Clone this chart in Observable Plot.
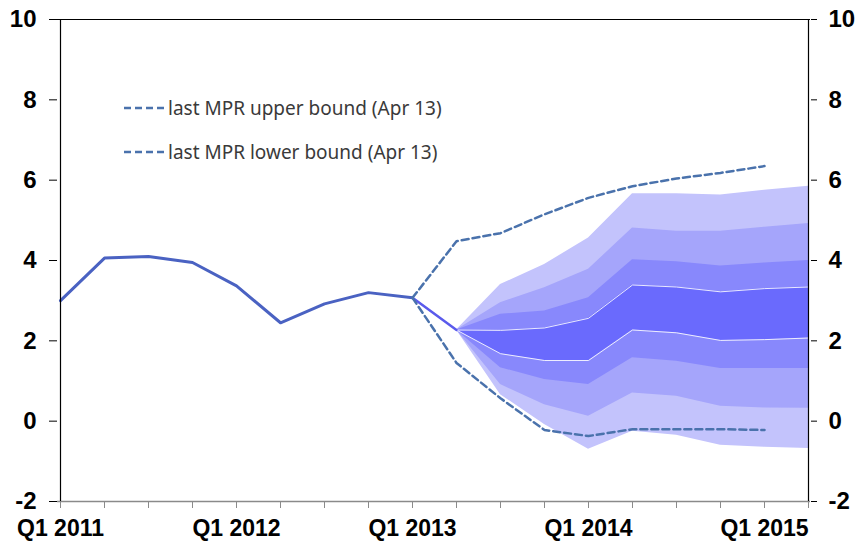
<!DOCTYPE html>
<html>
<head>
<meta charset="utf-8">
<script src="https://cdn.jsdelivr.net/npm/d3@7"></script>
<script src="https://cdn.jsdelivr.net/npm/@observablehq/plot@0.6"></script>
<style>
  html, body { margin: 0; padding: 0; background: #fff; }
  #wrap { position: relative; width: 859px; height: 542px; }
  #legend { position: absolute; left: 123px; top: 96px; font-family: "Noto Sans", "Open Sans", sans-serif; font-size: 19px; color: #3a3a3a; }
  #legend .row { display: flex; align-items: center; height: 24px; margin-bottom: 20px; }
  #legend svg { display: block; margin-right: 3px; }
</style>
</head>
<body>
<div id="wrap">
  <div id="chart"></div>
  <div id="legend"></div>
</div>
<script>
// ---- data ----
const quarters = ["Q1 2011","Q2 2011","Q3 2011","Q4 2011","Q1 2012","Q2 2012","Q3 2012","Q4 2012",
                  "Q1 2013","Q2 2013","Q3 2013","Q4 2013","Q1 2014","Q2 2014","Q3 2014","Q4 2014",
                  "Q1 2015","Q2 2015"];
const xTickLabels = ["Q1 2011","Q1 2012","Q1 2013","Q1 2014","Q1 2015"];
const yTicks = [-2, 0, 2, 4, 6, 8, 10];

// actual inflation, Q1 2011 .. Q2 2013
const actual = [3.0, 4.06, 4.1, 3.95, 3.37, 2.45, 2.92, 3.2, 3.07, 2.27];

// last MPR bounds (Apr 13), Q1 2013 .. Q1 2015
const boundQuarters = quarters.slice(8, 17);
const upperBound = [3.07, 4.48, 4.68, 5.15, 5.56, 5.85, 6.04, 6.18, 6.35];
const lowerBound = [3.07, 1.45, 0.57, -0.22, -0.37, -0.2, -0.2, -0.2, -0.22];

// fan chart bands, Q2 2013 .. Q2 2015
const fanQuarters = quarters.slice(9, 18);
const U3 = [2.27, 3.40, 3.90, 4.56, 5.66, 5.66, 5.63, 5.75, 5.85];
const U2 = [2.27, 2.95, 3.32, 3.78, 4.81, 4.73, 4.73, 4.83, 4.92];
const U1 = [2.27, 2.66, 2.74, 3.07, 4.02, 3.97, 3.86, 3.94, 4.00];
const U0 = [2.27, 2.26, 2.32, 2.56, 3.39, 3.34, 3.22, 3.30, 3.34];
const L0 = [2.27, 1.68, 1.51, 1.51, 2.27, 2.20, 2.01, 2.03, 2.07];
const L1 = [2.27, 1.33, 1.04, 0.91, 1.58, 1.49, 1.31, 1.31, 1.31];
const L2 = [2.27, 0.91, 0.41, 0.12, 0.70, 0.62, 0.37, 0.33, 0.32];
const L3 = [2.27, 0.66, -0.08, -0.70, -0.25, -0.35, -0.60, -0.65, -0.68];

const legendItems = ["last MPR upper bound (Apr 13)", "last MPR lower bound (Apr 13)"];

// ---- build tables ----
const actualRows = actual.map((v, i) => ({q: quarters[i], v}));
const upperRows = upperBound.map((v, i) => ({q: boundQuarters[i], v}));
const lowerRows = lowerBound.map((v, i) => ({q: boundQuarters[i], v}));
const fan = fanQuarters.map((q, i) => ({q, u3: U3[i], u2: U2[i], u1: U1[i], u0: U0[i], l0: L0[i], l1: L1[i], l2: L2[i], l3: L3[i]}));

const bandColors = ["#c3c3fc", "#a5a5fb", "#8888fc", "#6a6afd"];
const dashColor = "#4a72ac";
const yFmt = d => String(d);

const chart = Plot.plot({
  width: 859,
  height: 542,
  marginLeft: 57,
  marginRight: 49,
  marginTop: 19,
  marginBottom: 41,
  style: {fontFamily: "'Liberation Sans', Arial, sans-serif", fontSize: "23px", fontWeight: "bold", color: "#000", background: "#fff"},
  x: {type: "point", domain: quarters, padding: 0, axis: null, label: null},
  y: {domain: [-2, 10], axis: null, label: null},
  marks: [
    Plot.areaY(fan, {x: "q", y1: "l3", y2: "u3", fill: bandColors[0], curve: "linear"}),
    Plot.areaY(fan, {x: "q", y1: "l2", y2: "u2", fill: bandColors[1], curve: "linear"}),
    Plot.areaY(fan, {x: "q", y1: "l1", y2: "u1", fill: bandColors[2], curve: "linear"}),
    Plot.areaY(fan, {x: "q", y1: "l0", y2: "u0", fill: bandColors[3], curve: "linear"}),
    Plot.lineY(fan, {x: "q", y: "u0", stroke: "#fff", strokeWidth: 1, strokeOpacity: 0.85}),
    Plot.lineY(fan, {x: "q", y: "l0", stroke: "#fff", strokeWidth: 1, strokeOpacity: 0.85}),
    Plot.lineY(actualRows.slice(0, 9), {x: "q", y: "v", stroke: "#4a62c2", strokeWidth: 3}),
    Plot.lineY(actualRows.slice(8), {x: "q", y: "v", stroke: "#5a5aec", strokeWidth: 2.5}),
    Plot.lineY(upperRows, {x: "q", y: "v", stroke: dashColor, strokeWidth: 2.5, strokeDasharray: "7,4"}),
    Plot.lineY(lowerRows, {x: "q", y: "v", stroke: dashColor, strokeWidth: 2.5, strokeDasharray: "7,4"}),
    // frame
    Plot.ruleY([-2], {stroke: "#8a8a8a", strokeWidth: 1.5}),
    Plot.ruleY([10], {stroke: "#000", strokeWidth: 1}),
    Plot.ruleX([quarters[0]], {y1: -2, y2: 10, stroke: "#000", strokeWidth: 1.2}),
    Plot.ruleX([quarters[quarters.length - 1]], {y1: -2, y2: 10, stroke: "#000", strokeWidth: 1.2}),
    // axes
    Plot.axisY(yTicks, {anchor: "left", label: null, tickFormat: yFmt, tickSize: 8, tickPadding: 13, stroke: "#000", fontSize: 24, fontWeight: "bold", fill: "#000"}),
    Plot.axisY(yTicks, {anchor: "right", label: null, tickFormat: yFmt, tickSize: 6, tickPadding: 12, stroke: "#000", fontSize: 24, fontWeight: "bold", fill: "#000"}),
    Plot.axisX(quarters, {anchor: "bottom", label: null, tickSize: 7, tickPadding: 11, stroke: "#8a8a8a", fontSize: 23, fontWeight: "bold", fill: "#000",
      tickFormat: q => xTickLabels.includes(q) ? q : ""})
  ]
});
document.getElementById("chart").appendChild(chart);

// legend
const legend = document.getElementById("legend");
legendItems.forEach(label => {
  const row = document.createElement("div");
  row.className = "row";
  row.innerHTML = `<svg width="42" height="6"><line x1="1" y1="3" x2="41" y2="3" stroke="${dashColor}" stroke-width="2.5" stroke-dasharray="7,4"/></svg><span>${label}</span>`;
  legend.appendChild(row);
});
</script>
</body>
</html>
